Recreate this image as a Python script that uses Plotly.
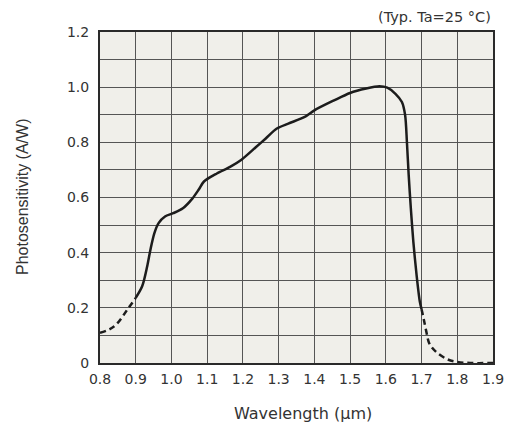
import plotly.graph_objects as go

# Data
solid_x = [0.900, 0.918, 0.932, 0.941, 0.952, 0.964, 0.982, 1.005, 1.032, 1.059, 1.077, 1.091,
           1.127, 1.164, 1.195, 1.236, 1.264, 1.295, 1.327, 1.373, 1.400, 1.455, 1.500, 1.545,
           1.582, 1.604, 1.627, 1.645, 1.654, 1.659, 1.664, 1.670, 1.677, 1.686, 1.695, 1.700]
solid_y = [0.236, 0.278, 0.350, 0.410, 0.470, 0.507, 0.531, 0.543, 0.561, 0.597, 0.630, 0.658,
           0.687, 0.711, 0.736, 0.782, 0.814, 0.850, 0.868, 0.892, 0.916, 0.952, 0.979, 0.995,
           1.003, 0.998, 0.976, 0.946, 0.899, 0.802, 0.682, 0.561, 0.440, 0.320, 0.224, 0.195]

dashed_left_x = [0.80, 0.84, 0.88, 0.90]
dashed_left_y = [0.109, 0.133, 0.200, 0.236]

dashed_right_x = [1.700, 1.706, 1.714, 1.722, 1.741, 1.773, 1.800, 1.836, 1.900]
dashed_right_y = [0.195, 0.160, 0.110, 0.070, 0.040, 0.013, 0.004, 0.000, 0.000]

x_ticks = [0.8, 0.9, 1.0, 1.1, 1.2, 1.3, 1.4, 1.5, 1.6, 1.7, 1.8, 1.9]
x_tick_labels = ["0.8", "0.9", "1.0", "1.1", "1.2", "1.3", "1.4", "1.5", "1.6", "1.7", "1.8", "1.9"]
y_ticks = [0, 0.2, 0.4, 0.6, 0.8, 1.0, 1.2]
y_tick_labels = ["0", "0.2", "0.4", "0.6", "0.8", "1.0", "1.2"]

line_color = "#1c1c1c"
grid_color = "#555555"
text_color = "#333333"

fig = go.Figure()
fig.add_trace(go.Scatter(x=dashed_left_x, y=dashed_left_y, mode="lines",
                         line=dict(color=line_color, width=2.5, dash="6px,4px", shape="spline"),
                         hoverinfo="skip", showlegend=False))
fig.add_trace(go.Scatter(x=solid_x, y=solid_y, mode="lines",
                         line=dict(color=line_color, width=2.5, shape="spline", smoothing=0.8),
                         showlegend=False))
fig.add_trace(go.Scatter(x=dashed_right_x, y=dashed_right_y, mode="lines",
                         line=dict(color=line_color, width=2.5, dash="6px,4px", shape="spline"),
                         hoverinfo="skip", showlegend=False))

fig.update_layout(
    width=516, height=425,
    margin=dict(l=100, r=12.7, t=32, b=61.5),
    paper_bgcolor="white",
    plot_bgcolor="#f0efea",
    font=dict(family="DejaVu Sans", size=14, color=text_color),
    xaxis=dict(range=[0.8, 1.9], tickvals=x_ticks, ticktext=x_tick_labels,
               showgrid=True, gridcolor=grid_color, gridwidth=1.4,
               showline=True, linecolor="#2a2a2a", linewidth=2, mirror=True,
               ticks="", zeroline=False, tickfont=dict(size=14, color=text_color),
               ticklabelstandoff=2, fixedrange=True),
    yaxis=dict(range=[0, 1.2], tickvals=y_ticks, ticktext=y_tick_labels,
               showgrid=True, gridcolor=grid_color, gridwidth=1.4,
               minor=dict(dtick=0.1, showgrid=True, gridcolor=grid_color, gridwidth=1.4),
               showline=True, linecolor="#2a2a2a", linewidth=2, mirror=True,
               ticks="", zeroline=False, tickfont=dict(size=14, color=text_color),
               ticklabelstandoff=6, fixedrange=True),
    annotations=[
        dict(text="(Typ. Ta=25 °C)", xref="paper", yref="paper", x=1, y=1,
             xanchor="right", yanchor="middle", yshift=15, showarrow=False,
             font=dict(family="DejaVu Sans", size=14.5, color=text_color)),
        dict(text="Photosensitivity (A/W)", xref="paper", yref="paper", x=0, y=0.5,
             xanchor="center", yanchor="middle", xshift=-77.5, textangle=-90, showarrow=False,
             font=dict(family="Liberation Sans", size=16, color=text_color)),
        dict(text="Wavelength (μm)", xref="paper", yref="paper", x=0.5, y=0,
             xanchor="center", yanchor="middle", xshift=6, yshift=-50, showarrow=False,
             font=dict(family="DejaVu Sans", size=16, color=text_color)),
    ],
)

# Remove the default page margin so the figure starts at the window's top-left corner
post = "document.body.style.margin='0';document.body.style.overflow='hidden';"

fig.write_html("out.html", post_script=post, config={"displayModeBar": False})
